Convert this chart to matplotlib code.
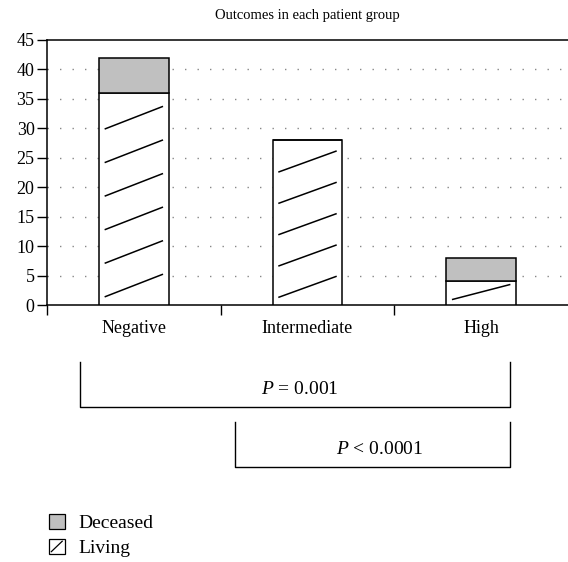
import matplotlib.pyplot as plt
from matplotlib.patches import Patch, Rectangle
from matplotlib.lines import Line2D
from matplotlib.legend_handler import HandlerPatch

plt.rcParams['font.family'] = ['Liberation Serif', 'DejaVu Serif']
plt.rcParams['mathtext.fontset'] = 'custom'
plt.rcParams['mathtext.it'] = 'Liberation Serif:italic'
plt.rcParams['mathtext.rm'] = 'Liberation Serif'

groups = ['Negative', 'Intermediate', 'High']
living = [36, 28, 4]
deceased = [6, 0, 4]
yticks = [0, 5, 10, 15, 20, 25, 30, 35, 40, 45]

fig = plt.figure(figsize=(5.68, 5.62), dpi=100)
ax = fig.add_axes([47/568, 1-305/562, 1-47/568, 265/562])

x = list(range(len(groups)))
w = 0.4
ax.bar(x, living, width=w, color='white', edgecolor='black', linewidth=1.1, zorder=3)
ax.bar(x, deceased, width=w, bottom=living, color='#c0c0c0', edgecolor='black',
       linewidth=1.1, zorder=3)

# sparse diagonal strokes inside the living part
for xi, h in zip(x, living):
    n = max(1, round(h / 6))
    sp = h / n * 0.95
    for k in range(n):
        y0 = (k + 0.25) * sp
        ax.plot([xi - w/2 + 0.09*w, xi + w/2 - 0.09*w], [y0, y0 + 0.66*sp],
                color='black', lw=1.1, zorder=4)

ax.set_xlim(-0.5, 2.5)
ax.set_ylim(0, 45)
ax.set_yticks(yticks)
ax.set_xticks(x)
ax.set_xticklabels(groups)
ax.set_xticks([-0.5, 0.5, 1.5], minor=True)
ax.tick_params(axis='x', which='major', length=0, pad=11, labelsize=13)
ax.tick_params(axis='x', which='minor', length=7, direction='out', width=1)
ax.tick_params(axis='y', length=7, direction='out', width=1, labelsize=13, pad=2)
for yv in yticks[1:-1]:
    ax.axhline(yv, color='#888888', lw=1, ls=(0, (1, 8)), zorder=1)
ax.spines['right'].set_visible(False)
for s in ['left', 'bottom', 'top']:
    ax.spines[s].set_linewidth(1.1)
ax.set_title('Outcomes in each patient group', fontsize=10.5, pad=15)

def bracket(x0, x1, ytop, ybot, label, tx, ty):
    xs = [x0/568, x0/568, x1/568, x1/568]
    ys = [1-ytop/562, 1-ybot/562, 1-ybot/562, 1-ytop/562]
    fig.add_artist(Line2D(xs, ys, color='black', lw=1))
    fig.text(tx/568, 1-ty/562, label, ha='center', va='center', fontsize=14)

bracket(80, 510, 362, 407, r'$P$ = 0.001', 300, 389)
bracket(235, 510, 422, 467, r'$P$ < 0.0001', 380, 450)


class SlashHandler(HandlerPatch):
    def create_artists(self, legend, orig, xd, yd, width, height, fontsize, trans):
        r = Rectangle((-xd, -yd), width, height, facecolor='white',
                      edgecolor='black', lw=0.9, transform=trans)
        ln = Line2D([-xd + 0.15*width, -xd + 0.85*width],
                    [-yd + 0.15*height, -yd + 0.85*height],
                    color='black', lw=0.9, transform=trans)
        return [r, ln]


h_dec = Patch(facecolor='#c0c0c0', edgecolor='black', lw=0.9)
h_liv = Patch(facecolor='white', edgecolor='black', lw=0.9)
fig.legend([h_dec, h_liv], ['Deceased', 'Living'], loc='upper left',
           bbox_to_anchor=(49/568, 1-514/562), frameon=False, fontsize=14,
           handlelength=0.8, handleheight=0.8, handletextpad=0.7,
           labelspacing=0.35, borderpad=0, borderaxespad=0,
           handler_map={h_liv: SlashHandler()})

fig.savefig('out.png', dpi=100)
